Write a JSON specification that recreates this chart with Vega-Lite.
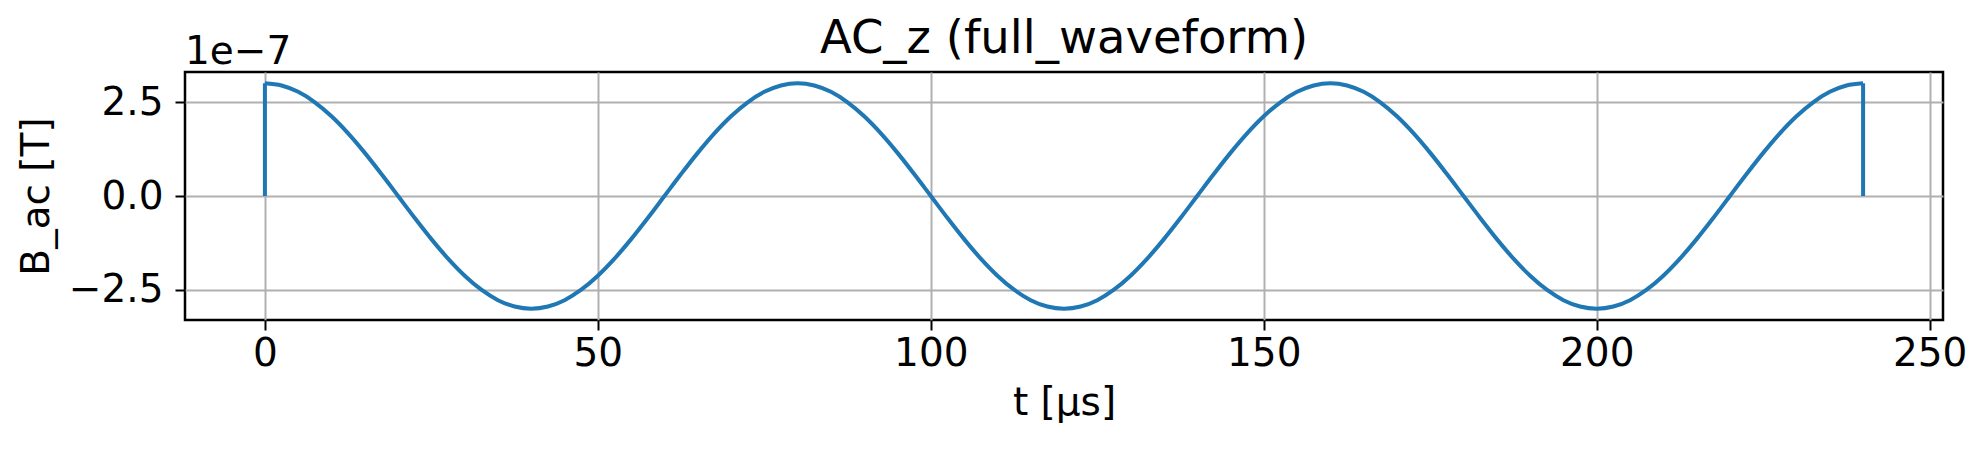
{
 "$schema": "https://vega.github.io/schema/vega-lite/v6.json",
 "autosize": {"type": "none"},
 "padding": {"left": 185, "top": 72, "right": 43, "bottom": 131},
 "width": 1758,
 "height": 248,
 "title": {"text": "AC_z (full_waveform)", "fontSize": 46.5, "font": "DejaVu Sans", "fontWeight": "normal", "color": "black", "anchor": "middle", "baseline": "alphabetic", "offset": -66},
 "data": {"values": [
  {"t":0,"B":3.000e-7},{"t":2.5,"B":2.942e-7},{"t":5,"B":2.772e-7},{"t":7.5,"B":2.494e-7},
  {"t":10,"B":2.121e-7},{"t":12.5,"B":1.667e-7},{"t":15,"B":1.148e-7},{"t":17.5,"B":0.585e-7},
  {"t":20,"B":0},{"t":22.5,"B":-0.585e-7},{"t":25,"B":-1.148e-7},{"t":27.5,"B":-1.667e-7},
  {"t":30,"B":-2.121e-7},{"t":32.5,"B":-2.494e-7},{"t":35,"B":-2.772e-7},{"t":37.5,"B":-2.942e-7},
  {"t":40,"B":-3.000e-7},{"t":42.5,"B":-2.942e-7},{"t":45,"B":-2.772e-7},{"t":47.5,"B":-2.494e-7},
  {"t":50,"B":-2.121e-7},{"t":52.5,"B":-1.667e-7},{"t":55,"B":-1.148e-7},{"t":57.5,"B":-0.585e-7},
  {"t":60,"B":0},{"t":62.5,"B":0.585e-7},{"t":65,"B":1.148e-7},{"t":67.5,"B":1.667e-7},
  {"t":70,"B":2.121e-7},{"t":72.5,"B":2.494e-7},{"t":75,"B":2.772e-7},{"t":77.5,"B":2.942e-7},
  {"t":80,"B":3.000e-7},{"t":82.5,"B":2.942e-7},{"t":85,"B":2.772e-7},{"t":87.5,"B":2.494e-7},
  {"t":90,"B":2.121e-7},{"t":92.5,"B":1.667e-7},{"t":95,"B":1.148e-7},{"t":97.5,"B":0.585e-7},
  {"t":100,"B":0},{"t":102.5,"B":-0.585e-7},{"t":105,"B":-1.148e-7},{"t":107.5,"B":-1.667e-7},
  {"t":110,"B":-2.121e-7},{"t":112.5,"B":-2.494e-7},{"t":115,"B":-2.772e-7},{"t":117.5,"B":-2.942e-7},
  {"t":120,"B":-3.000e-7},{"t":122.5,"B":-2.942e-7},{"t":125,"B":-2.772e-7},{"t":127.5,"B":-2.494e-7},
  {"t":130,"B":-2.121e-7},{"t":132.5,"B":-1.667e-7},{"t":135,"B":-1.148e-7},{"t":137.5,"B":-0.585e-7},
  {"t":140,"B":0},{"t":142.5,"B":0.585e-7},{"t":145,"B":1.148e-7},{"t":147.5,"B":1.667e-7},
  {"t":150,"B":2.121e-7},{"t":152.5,"B":2.494e-7},{"t":155,"B":2.772e-7},{"t":157.5,"B":2.942e-7},
  {"t":160,"B":3.000e-7},{"t":162.5,"B":2.942e-7},{"t":165,"B":2.772e-7},{"t":167.5,"B":2.494e-7},
  {"t":170,"B":2.121e-7},{"t":172.5,"B":1.667e-7},{"t":175,"B":1.148e-7},{"t":177.5,"B":0.585e-7},
  {"t":180,"B":0},{"t":182.5,"B":-0.585e-7},{"t":185,"B":-1.148e-7},{"t":187.5,"B":-1.667e-7},
  {"t":190,"B":-2.121e-7},{"t":192.5,"B":-2.494e-7},{"t":195,"B":-2.772e-7},{"t":197.5,"B":-2.942e-7},
  {"t":200,"B":-3.000e-7},{"t":202.5,"B":-2.942e-7},{"t":205,"B":-2.772e-7},{"t":207.5,"B":-2.494e-7},
  {"t":210,"B":-2.121e-7},{"t":212.5,"B":-1.667e-7},{"t":215,"B":-1.148e-7},{"t":217.5,"B":-0.585e-7},
  {"t":220,"B":0},{"t":222.5,"B":0.585e-7},{"t":225,"B":1.148e-7},{"t":227.5,"B":1.667e-7},
  {"t":230,"B":2.121e-7},{"t":232.5,"B":2.494e-7},{"t":235,"B":2.772e-7},{"t":237.5,"B":2.942e-7},
  {"t":240,"B":3.000e-7}
 ]},
 "layer": [
  {
   "mark": {"type": "line", "color": "#1f77b4", "strokeWidth": 4, "interpolate": "monotone", "strokeJoin": "round"},
   "encoding": {
    "x": {"field": "t", "type": "quantitative", "scale": {"domain": [-12, 252], "nice": false, "zero": false},
          "axis": {"values": [0, 50, 100, 150, 200, 250], "format": "d", "title": "t [μs]"}},
    "y": {"field": "B", "type": "quantitative", "scale": {"domain": [-3.3e-7, 3.3e-7], "nice": false, "zero": false},
          "axis": {"values": [-2.5e-7, 0, 2.5e-7], "labelExpr": "format(datum.value * 1e7, '.1f')", "title": "B_ac [T]"}}
   }
  },
  {
   "data": {"values": [{"t": 0, "B0": 0, "B1": 3.000e-7}, {"t": 240, "B0": 0, "B1": 3.000e-7}]},
   "mark": {"type": "rule", "color": "#1f77b4", "strokeWidth": 4, "strokeCap": "butt"},
   "encoding": {
    "x": {"field": "t", "type": "quantitative"},
    "y": {"field": "B0", "type": "quantitative"},
    "y2": {"field": "B1"}
   }
  },
  {
   "data": {"values": [{"label": "1e−7"}]},
   "mark": {"type": "text", "align": "left", "baseline": "alphabetic", "fontSize": 39, "font": "DejaVu Sans", "color": "black", "dy": -8},
   "encoding": {
    "x": {"datum": -12},
    "y": {"datum": 3.3e-7},
    "text": {"field": "label"}
   }
  }
 ],
 "config": {
  "font": "DejaVu Sans",
  "view": {"stroke": "black", "strokeWidth": 2.5},
  "axis": {
   "labelFont": "DejaVu Sans", "labelFontSize": 39, "labelColor": "black",
   "titleFont": "DejaVu Sans", "titleFontSize": 39, "titleFontWeight": "normal", "titleColor": "black",
   "domain": false, "tickColor": "black", "tickSize": 10, "tickWidth": 2,
   "gridColor": "#b0b0b0", "gridWidth": 2, "gridOpacity": 1
  },
  "axisX": {"labelPadding": 4, "titlePadding": 10},
  "axisY": {"labelPadding": 12, "titlePadding": 12}
 }
}
